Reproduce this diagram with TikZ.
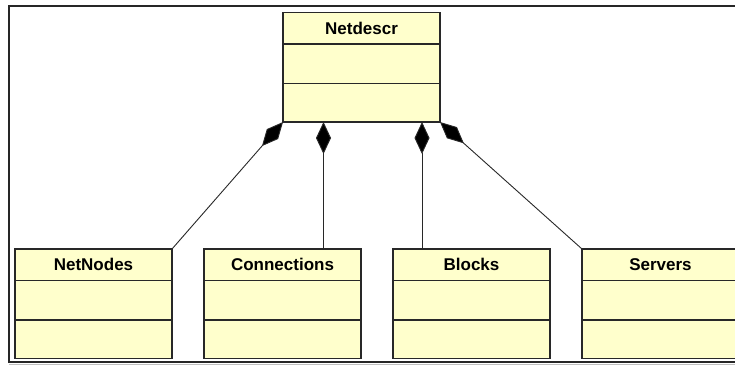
\documentclass[tikz,border=0pt]{standalone}
\usepackage{fontspec}
\setmainfont{Liberation Sans}
\usetikzlibrary{arrows.meta}
\definecolor{classfill}{RGB}{255,255,204}
\definecolor{classline}{RGB}{40,40,40}
\tikzset{
  classbody/.style={draw=classline, line width=1.4pt, fill=classfill,
    minimum width=157pt, minimum height=109.5pt, inner sep=0pt,
    outer sep=0pt, anchor=north},
  classtitle/.style={font=\fontsize{17}{20}\selectfont\bfseries, inner sep=0pt},
  divider/.style={draw=classline, line width=1.4pt},
  composition/.style={draw=classline, line width=0.9pt,
    {Diamond[length=32pt,width=15pt,fill=black]}-},
  frame/.style={draw=black!85, line width=2pt},
}
% a UML class box: name, centre x, top y, title
\newcommand\umlclass[4]{%
  \node[classbody] (#1) at (#2,#3) {};
  \node[classtitle] (#1-title) at ([yshift=-15.75pt]#1.north) {#4};
  \draw[divider] ([yshift=-31.5pt]#1.north west) -- ([yshift=-31.5pt]#1.north east);
  \draw[divider] ([yshift=-70.8pt]#1.north west) -- ([yshift=-70.8pt]#1.north east);
}
\begin{document}
\begin{tikzpicture}[x=1pt, y=-1pt]
  \useasboundingbox (0,0) rectangle (735,365);
  \clip (0,0) rectangle (735,365);
  \fill[white] (0,0) rectangle (735,365);

  % outer frame (its right side lies beyond the page)
  \draw[frame] (745,6) -- (9,6) -- (9,361.5) -- (745,361.5);
  \draw[black!25, line width=0.8pt] (9,364.5) -- (745,364.5);

  \umlclass{nd}{361.5}{12.5}{Netdescr}
  \umlclass{nn}{93.5}{249}{NetNodes}
  \umlclass{cn}{282.5}{249}{Connections}
  \umlclass{bl}{471.5}{249}{Blocks}
  \umlclass{sv}{660.5}{249}{Servers}

  \coordinate (cx) at (323.5,0);
  \coordinate (bx) at (422,0);

  \draw[composition] (nd.south west) -- (nn.north east);
  \draw[composition] (nd.south -| cx) -- (cn.north -| cx);
  \draw[composition] (nd.south -| bx) -- (bl.north -| bx);
  \draw[composition] (nd.south east) -- (sv.north west);
\end{tikzpicture}
\end{document}
